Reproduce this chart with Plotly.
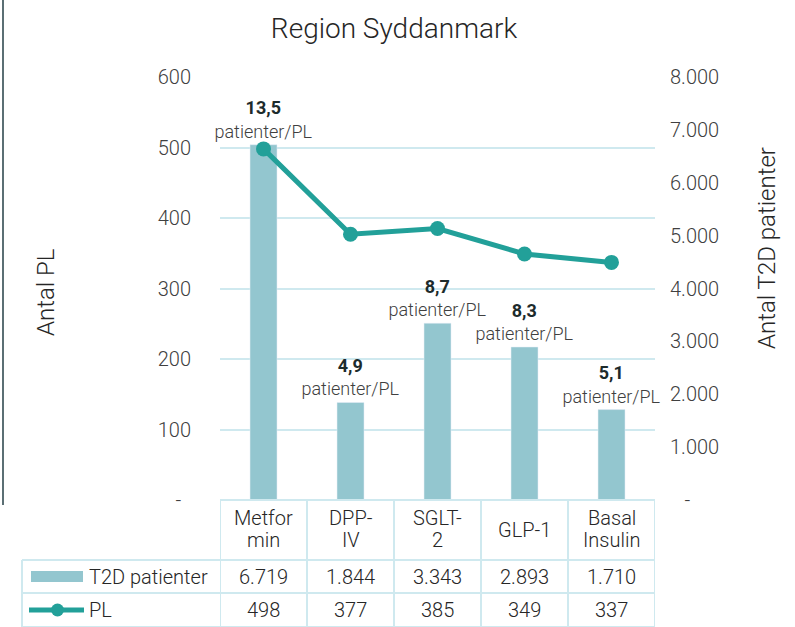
import plotly.graph_objects as go

categories = ["Metformin", "DPP-IV", "SGLT-2", "GLP-1", "Basal Insulin"]
category_labels = ["Metfor<br>min", "DPP-<br>IV", "SGLT-<br>2", "GLP-1", "Basal<br>Insulin"]
t2d_patients = [6719, 1844, 3343, 2893, 1710]
pl_counts = [498, 377, 385, 349, 337]
left_ticks = [0, 100, 200, 300, 400, 500, 600]
left_ticktext = ["-\u00a0\u00a0", "100", "200", "300", "400", "500", "600"]
right_ticks = [0, 1000, 2000, 3000, 4000, 5000, 6000, 7000, 8000]
right_ticktext = ["\u00a0\u00a0\u00a0-", "1.000", "2.000", "3.000", "4.000", "5.000", "6.000", "7.000", "8.000"]

BAR = "#93c6cf"
LINE = "#22a099"
GRID = "#cfe9ef"
TXT = "#404040"
DARK = "#262626"
FONT = "Roboto"
FS = 20

def fmt_thousands(v):
    return f"{v:,}".replace(",", ".")

ratios = [t / p for t, p in zip(t2d_patients, pl_counts)]
bar_text = [f"<span style='color:#1d2b2c'><b>{r:.1f}</b></span><br>patienter/PL".replace(".", ",") for r in ratios]

x_idx = list(range(len(categories)))

fig = go.Figure()
fig.add_trace(go.Bar(
    x=x_idx, y=t2d_patients, yaxis="y", marker_color=BAR, width=0.31,
    text=bar_text, textposition="outside", cliponaxis=False, constraintext="none",
    textfont=dict(family=FONT, size=18, color=TXT, weight=300),
    name="T2D patienter", showlegend=False,
))
fig.add_trace(go.Scatter(
    x=x_idx, y=pl_counts, yaxis="y2", mode="lines+markers",
    line=dict(color=LINE, width=5), marker=dict(color=LINE, size=15),
    name="PL", showlegend=False,
))

shapes = []
annotations = []

def py(pix):
    return (500 - pix) / 423

def px(pix):
    return (pix - 220) / 435

y_top = 0.0
y_h1 = py(560)
y_r1 = py(593)
y_r2 = py(627)
x_leg = px(22)

shapes.append(dict(type="line", xref="x", yref="paper", x0=-0.5, x1=len(categories) - 0.5, y0=y_top, y1=y_top, line=dict(color=GRID, width=2)))
for yy in [y_h1, y_r1, y_r2]:
    shapes.append(dict(type="line", xref="paper", yref="paper", x0=x_leg, x1=1, y0=yy, y1=yy, line=dict(color=GRID, width=2)))
for i in range(len(categories) + 1):
    shapes.append(dict(type="line", xref="x", yref="paper", x0=i - 0.5, x1=i - 0.5, y0=y_top, y1=y_r2, line=dict(color=GRID, width=2)))
shapes.append(dict(type="line", xref="paper", yref="paper", x0=x_leg, x1=x_leg, y0=y_h1, y1=y_r2, line=dict(color=GRID, width=2)))

shapes.append(dict(type="line", xref="paper", yref="paper", x0=px(3), x1=px(3), y0=1.2, y1=py(505), line=dict(color="#5b6f74", width=2)))

shapes.append(dict(type="rect", xref="paper", yref="paper", x0=px(31), x1=px(83),
                   y0=py(582), y1=py(571), fillcolor=BAR, line=dict(width=0)))
shapes.append(dict(type="line", xref="paper", yref="paper", x0=px(29), x1=px(84),
                   y0=py(610), y1=py(610), line=dict(color=LINE, width=5)))
shapes.append(dict(type="circle", xref="paper", yref="paper", x0=px(51), x1=px(64),
                   y0=py(616.5), y1=py(603.5), fillcolor=LINE, line=dict(width=0)))

tf = dict(family=FONT, size=FS, color=DARK, weight=300)
annotations.append(dict(xref="paper", yref="paper", x=px(87), y=(y_h1 + y_r1) / 2, text="T2D patienter",
                        showarrow=False, xanchor="left", yanchor="middle", font=tf))
annotations.append(dict(xref="paper", yref="paper", x=px(87), y=(y_r1 + y_r2) / 2, text="PL",
                        showarrow=False, xanchor="left", yanchor="middle", font=tf))
for i in x_idx:
    lines = category_labels[i].split("<br>")
    if len(lines) == 1:
        annotations.append(dict(xref="x", yref="paper", x=i, y=py(530), text=lines[0],
                                showarrow=False, xanchor="center", yanchor="middle", font=tf))
    else:
        for j, ln in enumerate(lines):
            annotations.append(dict(xref="x", yref="paper", x=i, y=py(518 + 22 * j), text=ln,
                                    showarrow=False, xanchor="center", yanchor="middle", font=tf))
    annotations.append(dict(xref="x", yref="paper", x=i, y=(y_h1 + y_r1) / 2, text=fmt_thousands(t2d_patients[i]),
                            showarrow=False, xanchor="center", yanchor="middle", font=tf))
    annotations.append(dict(xref="x", yref="paper", x=i, y=(y_r1 + y_r2) / 2, text=str(pl_counts[i]),
                            showarrow=False, xanchor="center", yanchor="middle", font=tf))

annotations.append(dict(xref="paper", yref="paper", x=px(46), y=py(292), text="Antal PL", textangle=-90,
                        showarrow=False, xanchor="center", yanchor="middle", font=dict(family=FONT, size=24, color=DARK, weight=300)))
annotations.append(dict(xref="paper", yref="paper", x=px(767), y=py(248), text="Antal T2D patienter", textangle=-90,
                        showarrow=False, xanchor="center", yanchor="middle", font=dict(family=FONT, size=24, color=DARK, weight=300)))

fig.update_layout(
    width=795, height=627,
    margin=dict(l=220, r=140, t=77, b=127),
    paper_bgcolor="white", plot_bgcolor="white",
    font=dict(family=FONT, size=FS, color=TXT, weight=300),
    title=dict(text="Region Syddanmark", x=394 / 795, xanchor="center", y=1 - 28 / 627, yanchor="middle",
               font=dict(family=FONT, size=28, color=DARK, weight=300)),
    xaxis=dict(range=[-0.5, len(categories) - 0.5], showticklabels=False, showgrid=False, zeroline=False,
               showline=False, ticks=""),
    yaxis=dict(side="right", range=[0, 8000], tickvals=right_ticks, ticktext=right_ticktext,
               showgrid=False, zeroline=False, showline=False, ticks="outside", ticklen=10, tickcolor="rgba(0,0,0,0)",
               tickfont=dict(family=FONT, size=FS, color=TXT, weight=300)),
    yaxis2=dict(side="left", overlaying="y", range=[0, 600], tickvals=left_ticks, ticktext=left_ticktext,
                showgrid=True, gridcolor=GRID, gridwidth=2, zeroline=False, showline=False,
                ticks="outside", ticklen=24, tickcolor="rgba(0,0,0,0)",
                tickfont=dict(family=FONT, size=FS, color=TXT, weight=300)),
    shapes=shapes, annotations=annotations,
)

fig.write_html("out.html", post_script="document.body.style.margin='0';", config={"displayModeBar": False})
